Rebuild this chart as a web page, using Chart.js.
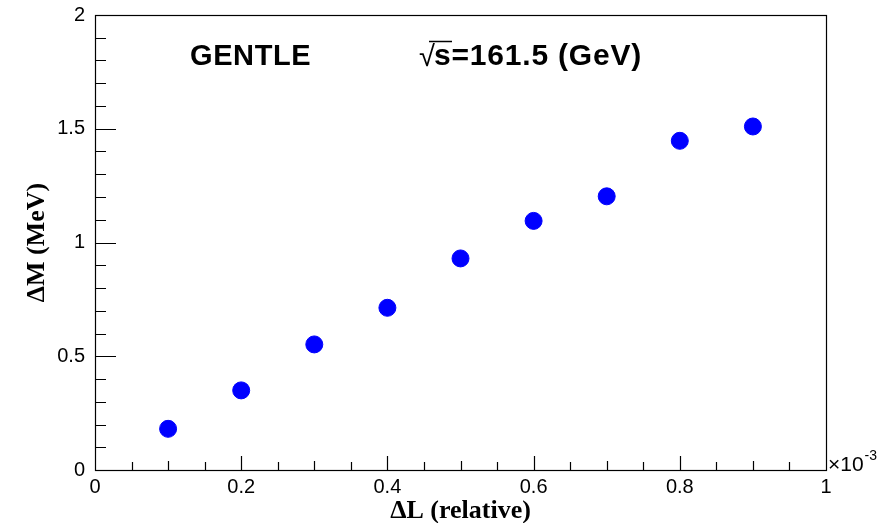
<!DOCTYPE html>
<html>
<head>
<meta charset="utf-8">
<script src="https://cdn.jsdelivr.net/npm/chart.js@4"></script>
<style>
  html, body { margin: 0; padding: 0; background: #fff; }
  #wrap { width: 882px; height: 523px; }
</style>
</head>
<body>
<div id="wrap"><canvas id="dmChart" width="882" height="523"></canvas></div>
<script>
// Delta L (relative, x 10^-3) vs Delta M (MeV)
const deltaL = [0.1, 0.2, 0.3, 0.4, 0.5, 0.6, 0.7, 0.8, 0.9];
const deltaM = [0.181, 0.350, 0.552, 0.713, 0.930, 1.095, 1.203, 1.447, 1.510];
const xTickLabels = ["0", "0.2", "0.4", "0.6", "0.8", "1"];
const yTickLabels = ["0", "0.5", "1", "1.5", "2"];

const axisFont = { family: "'Liberation Sans', Arial, sans-serif", size: 20 };
const titleFont = { family: "'Liberation Serif', 'Times New Roman', serif", size: 26, weight: "bold", lineHeight: 1 };

// ROOT-like frame: box with ticks drawn inwards, plus text labels
const rootFrame = {
    id: "rootFrame",
    afterDraw(chart) {
        const { ctx, chartArea: a, scales } = chart;
        const x = scales.x, y = scales.y;
        ctx.save();
        ctx.strokeStyle = "#000";
        ctx.lineWidth = 1.2;
        ctx.strokeRect(a.left + 0.5, a.top + 0.5, a.right - a.left, a.bottom - a.top);

        ctx.beginPath();
        // x ticks every 0.05, major every 0.2
        for (let i = 1; i < 20; i++) {
            const v = i * 0.05;
            const px = Math.round(x.getPixelForValue(v)) + 0.5;
            const len = (i % 4 === 0) ? 14 : (i % 2 === 0 ? 9 : 8);
            ctx.moveTo(px, a.bottom);
            ctx.lineTo(px, a.bottom - len);
        }
        // y ticks every 0.1, major every 0.5
        for (let i = 1; i < 20; i++) {
            const v = i * 0.1;
            const py = Math.round(y.getPixelForValue(v)) + 0.5;
            const len = (i % 5 === 0) ? 21 : 11;
            ctx.moveTo(a.left, py);
            ctx.lineTo(a.left + len, py);
        }
        ctx.stroke();

        // exponent label
        ctx.fillStyle = "#000";
        ctx.textBaseline = "alphabetic";
        ctx.textAlign = "left";
        ctx.font = "21px 'Liberation Sans', Arial, sans-serif";
        ctx.fillText("\u00d710", a.right + 2, a.bottom + 1);
        const w = ctx.measureText("\u00d710").width;
        ctx.font = "14px 'Liberation Sans', Arial, sans-serif";
        ctx.fillText("-3", a.right + 3 + w, a.bottom - 10);

        // labels in the pad
        ctx.textBaseline = "middle";
        ctx.font = "bold 29px 'Liberation Sans', Arial, sans-serif";
        ctx.letterSpacing = "0.6px";
        ctx.fillText("GENTLE", 190, 57);
        ctx.letterSpacing = "0px";
        ctx.font = "29px 'Liberation Sans', Arial, sans-serif";
        ctx.fillText("\u221a", 419, 58);
        ctx.font = "bold 30px 'Liberation Sans', Arial, sans-serif";
        ctx.letterSpacing = "0.8px";
        ctx.fillText("s=161.5 (GeV)", 434, 57);
        ctx.letterSpacing = "0px";
        ctx.lineWidth = 1.5;
        ctx.beginPath();
        ctx.moveTo(429, 41.5);
        ctx.lineTo(452, 41.5);
        ctx.stroke();
        ctx.restore();
    }
};

const ctx = document.getElementById("dmChart").getContext("2d");
new Chart(ctx, {
    type: "scatter",
    data: {
        datasets: [{
            data: deltaL.map((v, i) => ({ x: v, y: deltaM[i] })),
            backgroundColor: "#0000ff",
            borderColor: "#0000ff",
            borderWidth: 1,
            pointRadius: 8.5,
            pointHoverRadius: 8.5
        }]
    },
    options: {
        responsive: false,
        animation: false,
        layout: { padding: { top: 15, right: 56, left: 0, bottom: 0 } },
        scales: {
            x: {
                type: "linear",
                min: 0,
                max: 1,
                afterFit: (s) => { s.height = 53; s.paddingLeft = 0; s.paddingRight = 0; },
                ticks: {
                    stepSize: 0.2,
                    padding: 5,
                    color: "#000",
                    font: axisFont,
                    maxRotation: 0,
                    callback: (v, i) => xTickLabels[i]
                },
                grid: { display: false, drawTicks: false },
                border: { display: false },
                title: { display: true, text: "\u0394L (relative)", color: "#000", font: titleFont, padding: { top: 0, bottom: -1 } }
            },
            y: {
                type: "linear",
                min: 0,
                max: 2,
                afterFit: (s) => { s.width = 95; s.paddingTop = 0; s.paddingBottom = 0; },
                ticks: {
                    stepSize: 0.5,
                    padding: 10,
                    color: "#000",
                    font: axisFont,
                    callback: (v, i) => yTickLabels[i]
                },
                grid: { display: false, drawTicks: false },
                border: { display: false },
                title: { display: true, text: "\u0394M (MeV)", color: "#000", font: titleFont, padding: { top: 24, bottom: 0 } }
            }
        },
        plugins: {
            legend: { display: false },
            tooltip: { enabled: false }
        }
    },
    plugins: [rootFrame]
});
</script>
</body>
</html>
